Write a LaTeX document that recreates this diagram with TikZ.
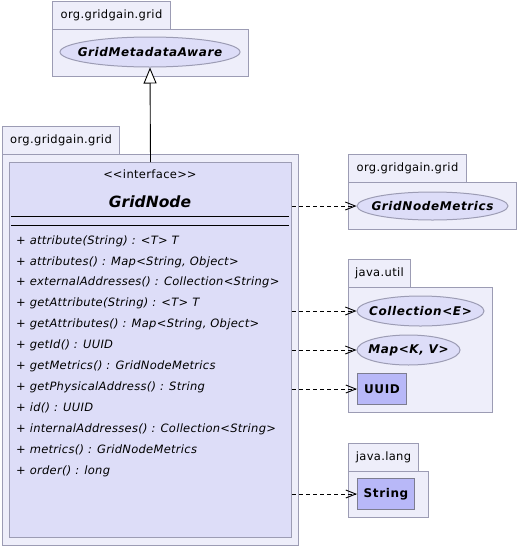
\documentclass[tikz,border=0pt]{standalone}
\usepackage{fontspec}
\setmainfont{DejaVu Sans}
\newfontfamily\pkgfont[LetterSpace=3]{DejaVu Sans}
\newfontfamily\opfont[LetterSpace=2.5]{DejaVu Sans}
\newfontfamily\boldfont[LetterSpace=5]{DejaVu Sans}
\usetikzlibrary{arrows.meta,shapes.geometric}

\definecolor{pkgfill}{HTML}{EEEEFA}
\definecolor{pkgline}{HTML}{9C9CB4}
\definecolor{clsfill}{HTML}{DDDDF8}
\definecolor{boxfill}{HTML}{B8B8F8}

\tikzset{
  pkgtab/.style={draw=pkgline,fill=pkgfill,line width=1pt,anchor=north west,
    minimum height=28,inner sep=0pt,font=\pkgfont\fontsize{11.5}{13}\selectfont},
  pkgbody/.style={draw=pkgline,fill=pkgfill,line width=1pt,anchor=north west,inner sep=0pt},
  iface/.style={ellipse,draw=pkgline,fill=clsfill,line width=1pt,inner xsep=-40pt,inner ysep=-10pt,
    font=\boldfont\fontsize{12}{14}\selectfont\bfseries\itshape},
  cbox/.style={draw=pkgline!80!black,fill=boxfill,line width=1pt,anchor=north west,inner sep=0pt,
    font=\boldfont\fontsize{12}{14}\selectfont\bfseries},
  dep/.style={dash pattern=on 4pt off 3pt,line width=0.9pt,-{Straight Barb[length=10pt,width=8pt]}},
  inherit/.style={line width=0.9pt,-{Triangle[open,length=16pt,width=13pt,fill=white]}}
}

\begin{document}
\begin{tikzpicture}[x=1pt,y=-1pt]
  % Canvas
  \fill[white] (0,0) rectangle (517,547);
  \useasboundingbox (0,0) rectangle (517,547);

  % Package of GridMetadataAware
  \node[pkgtab,minimum width=118] (tabA) at (52,1) {org.gridgain.grid};
  \node[pkgbody,minimum width=196,minimum height=47] (pkgA) at (52,29) {};
  \node[iface,minimum width=180,minimum height=30] (meta) at (150,52) {GridMetadataAware};

  % Package of GridNode
  \node[pkgtab,minimum width=117] (tabB) at (2,126) {org.gridgain.grid};
  \node[pkgbody,minimum width=296,minimum height=391] (pkgB) at (2,154) {};
  \node[pkgbody,fill=clsfill,minimum width=282,minimum height=375] (cls) at (9,162) {};
  \node[font=\pkgfont\fontsize{11.5}{13}\selectfont] (stereo) at (150,174)
    {<\kern0pt<interface>\kern0pt>};
  \node[font=\fontsize{15.5}{18}\selectfont\bfseries\itshape] (name) at (150,202) {GridNode};
  \draw[line width=0.9pt] (11,216) -- (289,216);
  \draw[line width=0.9pt] (11,225) -- (289,225);
  \foreach \m [count=\i] in {
      {+ attribute(String) : <T> T},
      {+ attributes() : Map<String, Object>},
      {+ externalAddresses() : Collection<String>},
      {+ getAttribute(String) : <T> T},
      {+ getAttributes() : Map<String, Object>},
      {+ getId() : UUID},
      {+ getMetrics() : GridNodeMetrics},
      {+ getPhysicalAddress() : String},
      {+ id() : UUID},
      {+ internalAddresses() : Collection<String>},
      {+ metrics() : GridNodeMetrics},
      {+ order() : long}}
    \node[anchor=west,inner sep=0pt,font=\opfont\fontsize{11.5}{13}\selectfont\itshape] (m\i)
      at (16,{241+20.9*(\i-1)}) {\m};

  % Package of GridNodeMetrics
  \node[pkgtab,minimum width=118] (tabC) at (348,154) {org.gridgain.grid};
  \node[pkgbody,minimum width=168,minimum height=47] (pkgC) at (348,182) {};
  \node[iface,minimum width=151,minimum height=28] (metrics) at (432.5,206) {GridNodeMetrics};

  % Package java.util
  \node[pkgtab,minimum width=62] (tabD) at (348,259) {java.util};
  \node[pkgbody,minimum width=144,minimum height=125] (pkgD) at (348,287) {};
  \node[iface,minimum width=127,minimum height=30] (coll) at (420.5,311) {Collection<E>};
  \node[iface,minimum width=103,minimum height=30] (map) at (408.5,350) {Map<K, V>};
  \node[cbox,minimum width=49,minimum height=31] (uuid) at (357,373) {UUID};

  % Package java.lang
  \node[pkgtab,minimum width=70] (tabE) at (348,443) {java.lang};
  \node[pkgbody,minimum width=80,minimum height=46] (pkgE) at (348,471) {};
  \node[cbox,minimum width=57,minimum height=31] (str) at (357,478) {String};

  % Relations
  \draw[inherit] (cls.north) -- (meta.south);
  \foreach \t in {metrics,coll,map,uuid,str}
    \draw[dep] (cls.east |- \t.west) -- (\t.west);
\end{tikzpicture}
\end{document}
